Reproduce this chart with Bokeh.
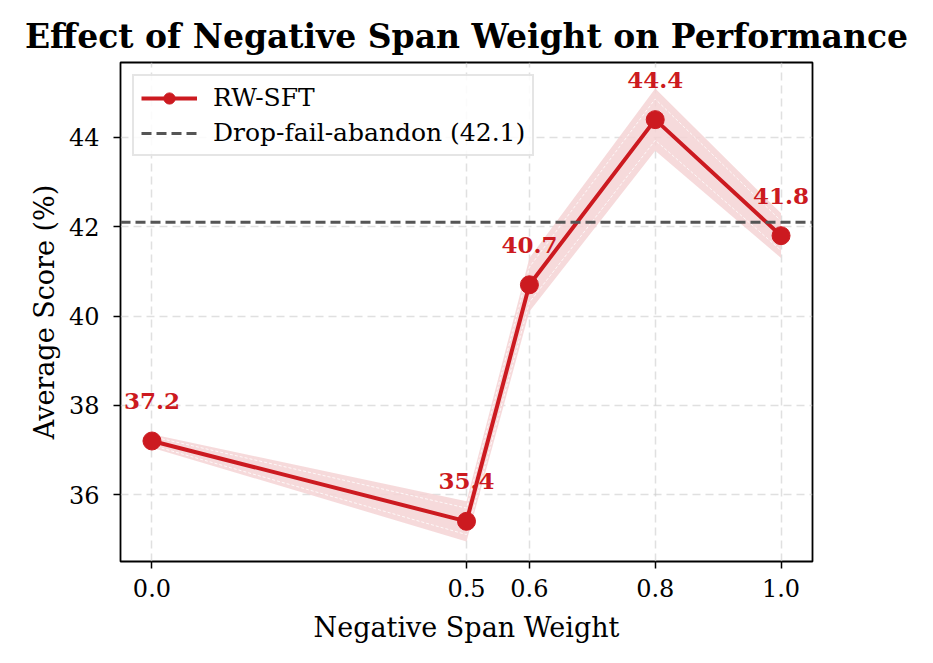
from bokeh.plotting import figure
from bokeh.models import ColumnDataSource, Span, FixedTicker, Legend, LegendItem, Range1d
from bokeh.embed import file_html
from bokeh.resources import INLINE
from bokeh.core.properties import value

weights = [0.0, 0.5, 0.6, 0.8, 1.0]
scores = [37.2, 35.4, 40.7, 44.4, 41.8]
spread = [0.15, 0.45, 0.6, 0.7, 0.5]
baseline = 42.1
x_ticks = [0.0, 0.5, 0.6, 0.8, 1.0]
y_ticks = [36, 38, 40, 42, 44]

RED = "#cc1a20"
FONT = "DejaVu Serif"

lo = [s - e for s, e in zip(scores, spread)]
hi = [s + e for s, e in zip(scores, spread)]
lo2 = [s - e * 0.66 for s, e in zip(scores, spread)]
hi2 = [s + e * 0.66 for s, e in zip(scores, spread)]
labels = [f"{s:.1f}" for s in scores]

src = ColumnDataSource(dict(x=weights, y=scores, lo=lo, hi=hi, lo2=lo2, hi2=hi2, lab=labels))

p = figure(width=933, height=663, output_backend="svg", toolbar_location=None,
           x_range=Range1d(-0.05, 1.05), y_range=Range1d(34.5, 45.68),
           min_border_left=120, min_border_right=121, min_border_top=62, min_border_bottom=102)

p.title.text = "Effect of Negative Span Weight on Performance"
p.title.text_font = FONT
p.title.text_font_size = "33px"
p.title.text_font_style = "bold"
p.title.text_color = "black"
p.title.align = "center"
p.title.standoff = 14

p.varea(x="x", y1="lo", y2="hi", source=src, fill_color="#f5d3d5", fill_alpha=0.85)
p.line(x="x", y="lo2", source=src, line_color="white", line_width=0.8, line_dash="3 2")
p.line(x="x", y="hi2", source=src, line_color="white", line_width=0.8, line_dash="3 2")

span = Span(location=baseline, dimension="width", line_color="#555555", line_width=3, line_dash="10 5")
p.add_layout(span)
dummy_base = p.line(x=[-10, -9], y=[0, 0], line_color="#555555", line_width=3, line_dash="10 5")

ln = p.line(x="x", y="y", source=src, line_color=RED, line_width=4)
sc = p.scatter(x="x", y="y", source=src, size=18, fill_color=RED, line_color=RED)

p.text(x="x", y="y", text="lab", source=src, text_color=RED, text_font=value(FONT),
       text_font_size="23px", text_font_style="bold", text_align="center",
       text_baseline="middle", y_offset=-40)

legend = Legend(items=[LegendItem(label="RW-SFT", renderers=[ln, sc]),
                       LegendItem(label="Drop-fail-abandon (42.1)", renderers=[dummy_base])],
                location="top_left")
legend.label_text_font = FONT
legend.label_text_font_size = "25px"
legend.label_text_color = "black"
legend.label_standoff = 16
legend.border_line_color = "#cccccc"
legend.border_line_width = 2
legend.background_fill_alpha = 0.85
legend.glyph_width = 56
legend.glyph_height = 28
legend.label_height = 28
legend.spacing = 6
legend.padding = 7
legend.margin = 12
p.add_layout(legend)

for ax in (p.xaxis[0], p.yaxis[0]):
    ax.axis_label_text_font = FONT
    ax.axis_label_text_font_size = "27px"
    ax.axis_label_text_font_style = "normal"
    ax.axis_label_text_color = "black"
    ax.major_label_text_font = FONT
    ax.major_label_text_font_size = "24px"
    ax.major_label_text_color = "black"
    ax.axis_line_color = None
    ax.major_tick_line_color = "black"
    ax.major_tick_line_width = 1.5
    ax.major_tick_out = 7
    ax.major_tick_in = 0
    ax.minor_tick_line_color = None

p.xaxis.axis_label = "Negative Span Weight"
p.yaxis.axis_label = "Average Score (%)"
p.yaxis.axis_label_standoff = 6
p.yaxis.major_label_standoff = 14
p.xaxis.major_label_standoff = 10
p.xaxis.axis_label_standoff = 12
p.xaxis.ticker = FixedTicker(ticks=x_ticks)
p.yaxis.ticker = FixedTicker(ticks=y_ticks)
p.xaxis.major_label_overrides = {t: f"{t:.1f}" for t in x_ticks}
p.yaxis.major_label_overrides = {t: str(t) for t in y_ticks}

p.xgrid.ticker = FixedTicker(ticks=x_ticks)
p.ygrid.ticker = FixedTicker(ticks=y_ticks)
for g in (p.xgrid[0], p.ygrid[0]):
    g.grid_line_color = "#cccccc"
    g.grid_line_alpha = 0.6
    g.grid_line_dash = "8 5"
    g.grid_line_width = 1.5

p.outline_line_color = "black"
p.outline_line_width = 1.8
p.outline_line_alpha = 1.0

open("out.html", "w").write(file_html(p, INLINE))
